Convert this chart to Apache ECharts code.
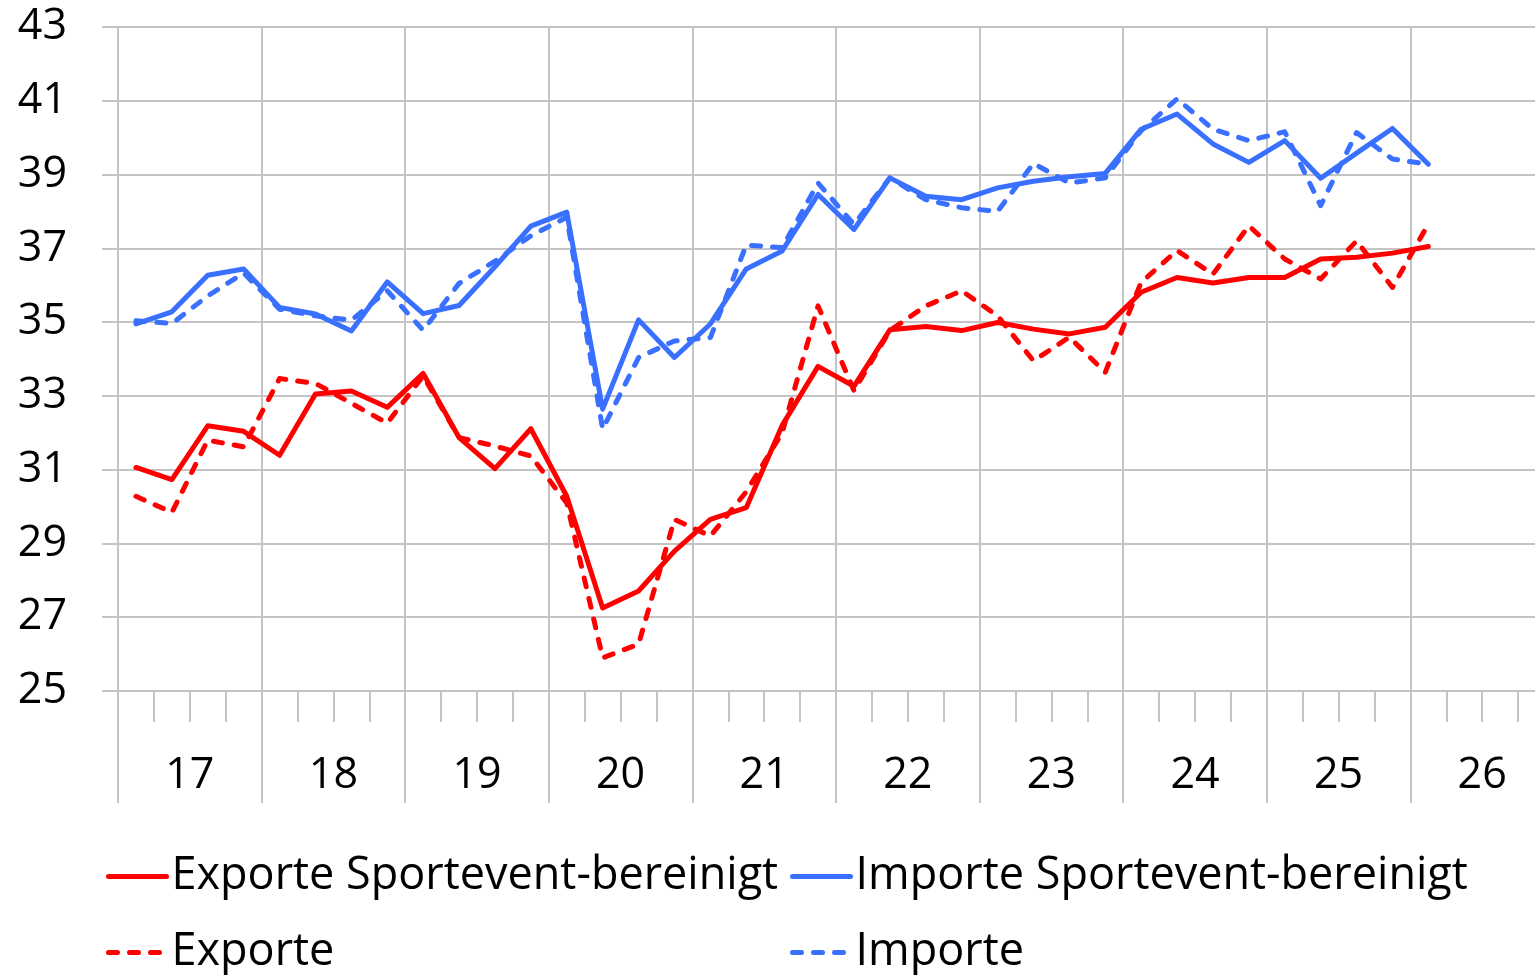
<!DOCTYPE html>
<html>
<head>
<meta charset="utf-8">
<title>Exporte / Importe</title>
<script src="https://cdn.jsdelivr.net/npm/echarts@6.0.0/dist/echarts.min.js"></script>
<style>
  html, body { margin: 0; padding: 0; background: #fff; }
  #chart { width: 1535px; height: 975px; }
</style>
</head>
<body>
<div id="chart"></div>
<script>
  // Quartale 2017 Q1 bis 2026 Q4, Werte bis 2026 Q1
  var years = ['17', '18', '19', '20', '21', '22', '23', '24', '25', '26'];
  var quarters = [];
  years.forEach(function (y) {
    for (var q = 1; q <= 4; q++) quarters.push(y + 'Q' + q);
  });

  var exporteBereinigt = [31.06, 30.73, 32.19, 32.04, 31.39, 33.05, 33.13, 32.69, 33.61,
    31.87, 31.03, 32.11, 30.28, 27.25, 27.71, 28.79, 29.65, 29.97,
    32.2, 33.8, 33.26, 34.79, 34.88, 34.77, 34.99, 34.81, 34.68, 34.86,
    35.81, 36.21, 36.06, 36.21, 36.21, 36.71, 36.76, 36.87, 37.05];
  var exporte = [30.28, 29.84, 31.80, 31.62, 33.47, 33.34, 32.80, 32.26, 33.54,
    31.87, 31.64, 31.37, 30.1, 25.9, 26.27, 29.65, 29.2, 30.4,
    32.0, 35.44, 33.14, 34.77, 35.44, 35.85, 35.17, 33.95, 34.59, 33.64,
    36.08, 36.94, 36.3, 37.61, 36.71, 36.17, 37.2, 35.94, 37.66];
  var importeBereinigt = [34.95, 35.28, 36.27, 36.44, 35.4, 35.22, 34.76, 36.09, 35.23,
    35.45, 36.5, 37.6, 37.98, 32.64, 35.06, 34.04, 34.95, 36.44,
    36.93, 38.46, 37.51, 38.91, 38.41, 38.32, 38.64, 38.82, 38.94, 39.03,
    40.23, 40.64, 39.83, 39.33, 39.92, 38.9, 39.58, 40.25, 39.28];
  var importe = [35.04, 34.96, 35.71, 36.33, 35.35, 35.17, 35.05, 35.85, 34.78,
    36.05, 36.65, 37.34, 37.84, 32.1, 34.04, 34.49, 34.58, 37.09,
    37.02, 38.77, 37.65, 38.91, 38.32, 38.1, 38.0, 39.3, 38.77, 38.91,
    40.19, 41.05, 40.23, 39.92, 40.16, 38.16, 40.14, 39.42, 39.28];

  var rot = '#ff0000';
  var blau = '#3a70ff';
  var grau = '#c4c4c4';
  var schrift = '"Open Sans", Lato, sans-serif';
  var dash = [9, 12];

  function linie(name, data, color, dashed) {
    return {
      name: name,
      type: 'line',
      xAxisIndex: 0,
      data: data,
      symbol: 'none',
      smooth: false,
      lineStyle: { color: color, width: 5, type: dashed ? dash : 'solid', cap: 'round', join: 'round' },
      itemStyle: { color: color }
    };
  }

  function legende(name, left, top) {
    return {
      data: [name],
      left: left,
      top: top,
      padding: 0,
      itemWidth: 58,
      itemHeight: 14,
      selectedMode: false,
      itemStyle: { opacity: 0 },
      lineStyle: { width: 5 },
      textStyle: { fontSize: 45, color: '#000', fontFamily: schrift }
    };
  }

  var option = {
    animation: false,
    backgroundColor: '#fff',
    legend: [
      legende('Exporte Sportevent-bereinigt', 106, 854),
      legende('Importe Sportevent-bereinigt', 790, 854),
      legende('Exporte', 106, 930),
      legende('Importe', 790, 930)
    ],
    // Achse läuft rechts über den Bildrand hinaus (2026 nur angeschnitten)
    grid: { left: 118, top: 27, width: 1436, height: 664, outerBoundsMode: 'none' },
    xAxis: [
      {
        type: 'category',
        data: quarters,
        boundaryGap: true,
        axisLine: { show: true, lineStyle: { color: grau, width: 2 } },
        axisTick: { show: true, interval: 0, length: 31, lineStyle: { color: grau, width: 2 } },
        axisLabel: { show: false },
        splitLine: { show: false }
      },
      {
        type: 'category',
        data: years,
        position: 'bottom',
        boundaryGap: true,
        axisLine: { show: false },
        axisTick: { show: true, interval: 0, length: 112, lineStyle: { color: grau, width: 2 } },
        axisLabel: { interval: 0, margin: 63, fontSize: 43, color: '#000', fontFamily: schrift },
        splitLine: { show: true, interval: 0, lineStyle: { color: grau, width: 2 } }
      }
    ],
    yAxis: {
      type: 'value',
      min: 25,
      max: 43,
      interval: 2,
      axisLine: { show: false },
      axisTick: { show: true, length: 16, lineStyle: { color: grau, width: 2 } },
      axisLabel: { margin: 51, fontSize: 43, color: '#000', fontFamily: schrift },
      splitLine: { show: true, lineStyle: { color: grau, width: 2 } }
    },
    series: [
      linie('Exporte', exporte, rot, true),
      linie('Importe', importe, blau, true),
      linie('Exporte Sportevent-bereinigt', exporteBereinigt, rot, false),
      linie('Importe Sportevent-bereinigt', importeBereinigt, blau, false)
    ]
  };

  var chart = echarts.init(document.getElementById('chart'));
  chart.setOption(option);
</script>
</body>
</html>
